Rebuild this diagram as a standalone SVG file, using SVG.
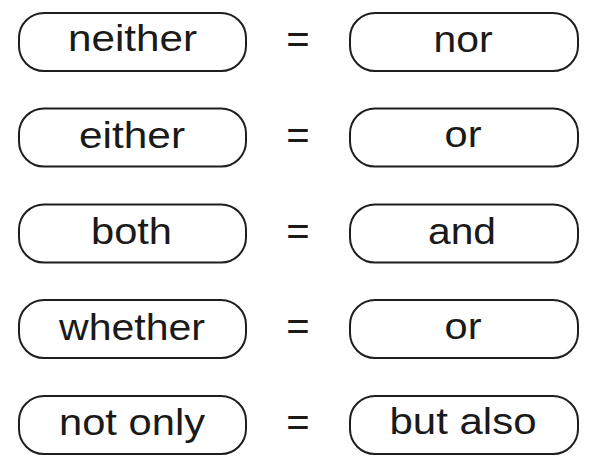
<svg xmlns="http://www.w3.org/2000/svg" width="600" height="468" viewBox="0 0 600 468">
<style>
.box{fill:#fff;stroke:#1e1e1e;stroke-width:2}
.t{font-family:"Liberation Sans",Arial,sans-serif;font-size:37px;fill:#1a1a1a;text-anchor:middle}
.eq{font-family:"Liberation Sans",Arial,sans-serif;font-size:40px;fill:#1a1a1a;text-anchor:middle}
</style>
<rect width="600" height="468" fill="#fff"/>
<g id="neither"><rect class="box" x="19" y="13" width="227" height="58" rx="25" ry="25"/><text class="t" x="132.5" y="50.5" textLength="129" lengthAdjust="spacingAndGlyphs">neither</text></g>
<g id="nor"><rect class="box" x="350" y="13" width="228" height="58" rx="25" ry="25"/><text class="t" x="463" y="52" textLength="59" lengthAdjust="spacingAndGlyphs">nor</text></g>
<g id="either"><rect class="box" x="19" y="108.5" width="227" height="58" rx="25" ry="25"/><text class="t" x="132" y="148" textLength="106" lengthAdjust="spacingAndGlyphs">either</text></g>
<g id="or1"><rect class="box" x="350" y="108.5" width="228" height="58" rx="25" ry="25"/><text class="t" x="463" y="147" textLength="37" lengthAdjust="spacingAndGlyphs">or</text></g>
<g id="both"><rect class="box" x="19" y="204.5" width="227" height="58" rx="25" ry="25"/><text class="t" x="131.5" y="244" textLength="81" lengthAdjust="spacingAndGlyphs">both</text></g>
<g id="and"><rect class="box" x="350" y="204.5" width="228" height="58" rx="25" ry="25"/><text class="t" x="462" y="243.5" textLength="68" lengthAdjust="spacingAndGlyphs">and</text></g>
<g id="whether"><rect class="box" x="19" y="300" width="227" height="58" rx="25" ry="25"/><text class="t" x="132" y="340" textLength="146" lengthAdjust="spacingAndGlyphs">whether</text></g>
<g id="or2"><rect class="box" x="350" y="300" width="228" height="58" rx="25" ry="25"/><text class="t" x="463" y="339" textLength="37" lengthAdjust="spacingAndGlyphs">or</text></g>
<g id="notonly"><rect class="box" x="19" y="396" width="227" height="58" rx="25" ry="25"/><text class="t" x="132" y="435" textLength="146" lengthAdjust="spacingAndGlyphs">not only</text></g>
<g id="butalso"><rect class="box" x="350" y="396" width="228" height="58" rx="25" ry="25"/><text class="t" x="463" y="434" textLength="147" lengthAdjust="spacingAndGlyphs">but also</text></g>
<g id="connectors">
<text class="eq" x="298" y="53">=</text>
<text class="eq" x="298" y="149">=</text>
<text class="eq" x="298" y="244.5">=</text>
<text class="eq" x="298" y="340">=</text>
<text class="eq" x="298" y="436">=</text>
</g>
</svg>
